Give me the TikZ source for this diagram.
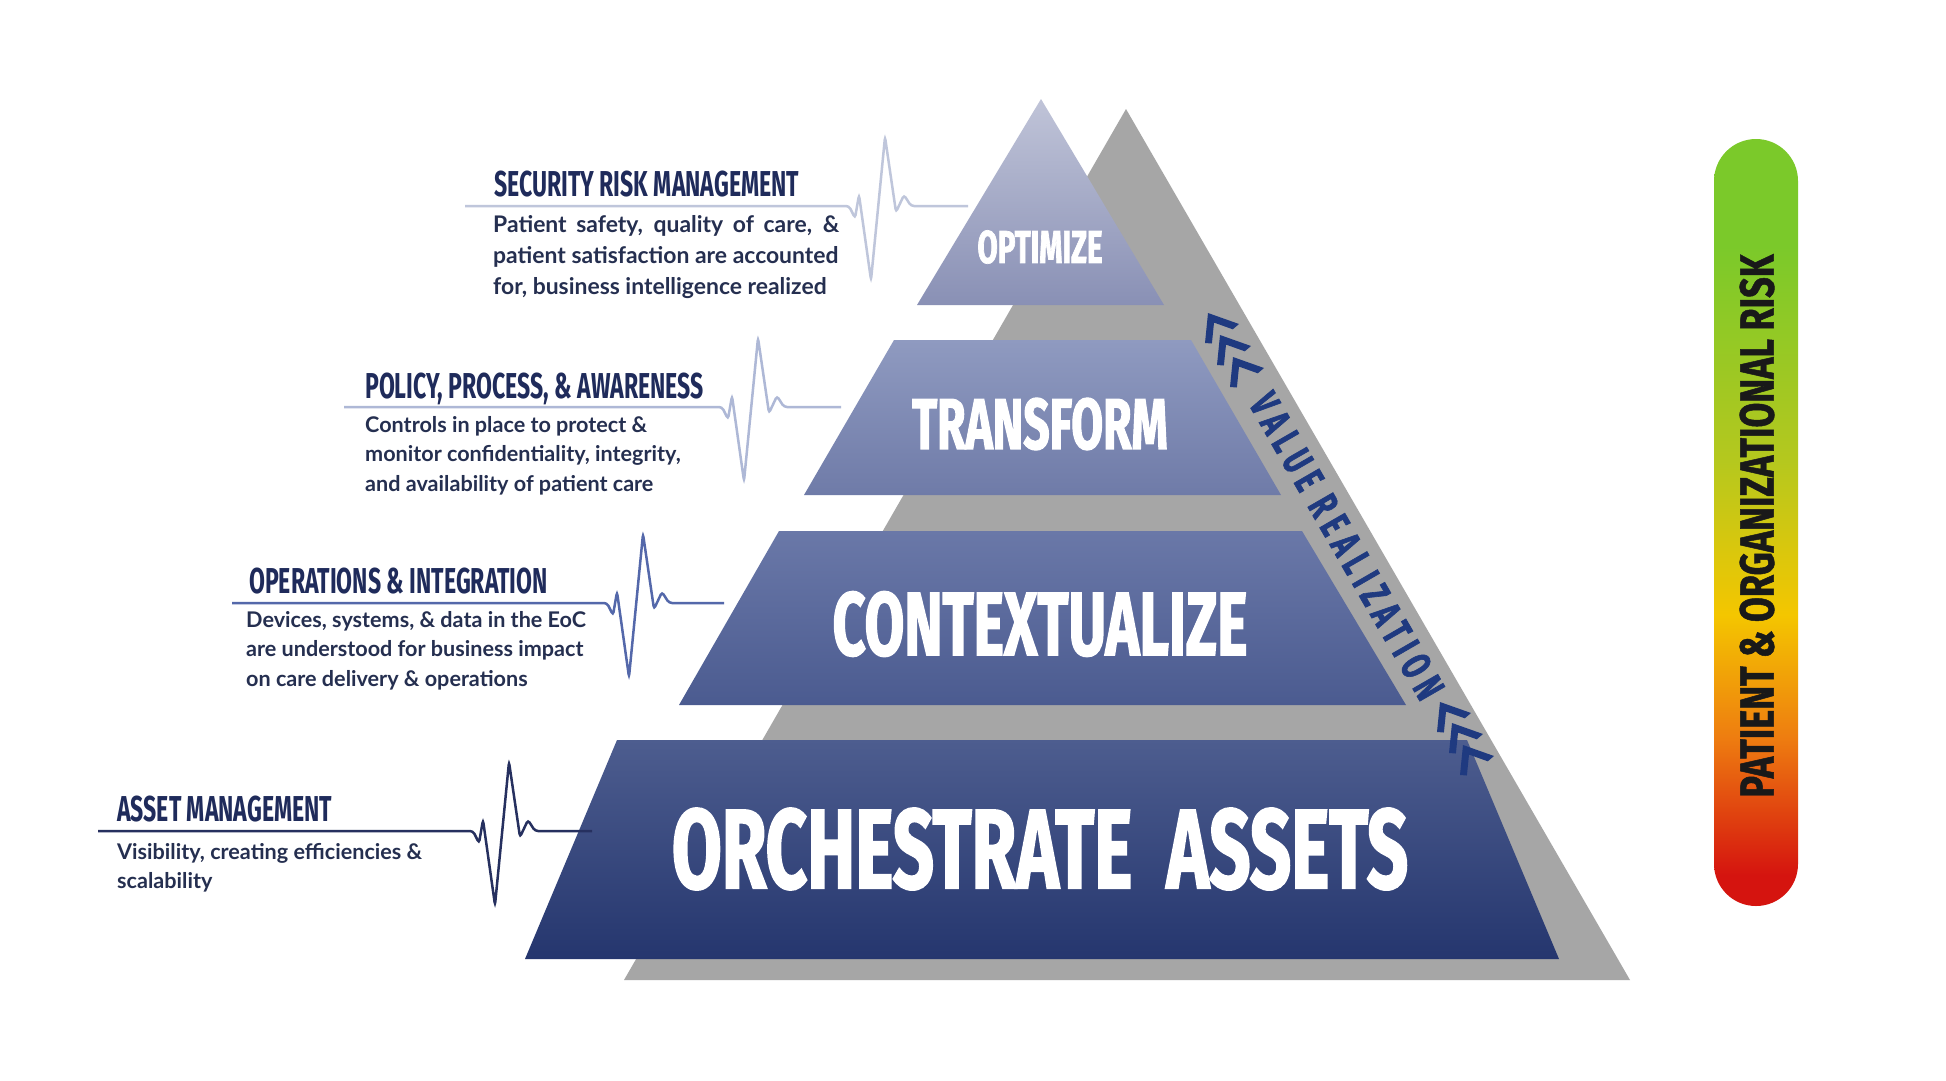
\documentclass[tikz,border=0pt]{standalone}
\usepackage{fontspec}
\setmainfont{Lato}
\newfontfamily\bebas[FakeStretch=0.64]{Fira Sans}
\newfontfamily\tierfont[FakeStretch=0.64,FakeBold=1.5]{Fira Sans}
\newfontfamily\riskfont[FakeStretch=0.75,FakeBold=1]{Fira Sans}
\newfontfamily\spaced[FakeStretch=0.64,LetterSpace=17,FakeBold=1.5]{Fira Sans}
\usetikzlibrary{positioning,calc}

\definecolor{navy}{HTML}{1F2B5B}
\definecolor{bodyblue}{HTML}{252F50}
\definecolor{vblue}{HTML}{1F3A80}
\definecolor{backgray}{HTML}{A6A6A6}
\definecolor{wave1}{HTML}{BFC6DB}
\definecolor{wave2}{HTML}{AEB8D6}
\definecolor{wave3}{HTML}{5468AA}
\definecolor{wave4}{HTML}{26305F}
\definecolor{t1top}{HTML}{C0C4D8}
\definecolor{t1bot}{HTML}{8990B5}
\definecolor{t2top}{HTML}{8F9AC0}
\definecolor{t2bot}{HTML}{6F7BA8}
\definecolor{t3top}{HTML}{6A78A8}
\definecolor{t3bot}{HTML}{4B5B90}
\definecolor{t4top}{HTML}{4D5D8F}
\definecolor{t4bot}{HTML}{25366E}
\definecolor{riskred}{HTML}{D5140F}
\definecolor{riskorange}{HTML}{EE7D10}
\definecolor{riskyellow}{HTML}{F4C600}
\definecolor{riskyg}{HTML}{B5C81E}
\definecolor{riskgreen}{HTML}{7BC92A}

\pgfdeclareverticalshading{riskgrad}{100bp}{color(0bp)=(riskred); color(27bp)=(riskred);
  color(36bp)=(riskorange); color(44bp)=(riskyellow); color(54bp)=(riskyg);
  color(68bp)=(riskgreen); color(100bp)=(riskgreen)}

% one heart beat, drawn from the current point
\newcommand{\beat}{-- ++(6,12) -- ++(4,-23) -- ++(12,85) -- ++(14,-143) -- ++(11,75) -- ++(8,-17) -- ++(7,11)}

\tikzset{
  head/.style={font=\bebas\bfseries\fontsize{36}{36}\selectfont, text=navy, inner sep=0pt, anchor=base west},
  body/.style={font=\bfseries\fontsize{21.6}{29.5}\selectfont, text=bodyblue, inner sep=0pt, align=left, anchor=north west},
  tier/.style={text=white, inner sep=0pt},
  pulse/.style={line width=2.5pt, rounded corners=3pt},
  chev/.pic={\fill[vblue] (0,0) -- (31,11) -- (24.8,16.3) -- (6,9.6) -- (3.9,30.5) -- (-3,30) -- cycle;},
}

\begin{document}
\begin{tikzpicture}[x=1pt, y=-1pt]
	\fill[white] (0,0) rectangle (1946,1080);
	\useasboundingbox (0,0) rectangle (1946,1080);

	% pyramid
	\fill[backgray] (1126,109) -- (1630,980) -- (624,980) -- cycle;
	\shade[top color=t1top, bottom color=t1bot] (1041,99) -- (1164,305) -- (917,305) -- cycle;
	\shade[top color=t2top, bottom color=t2bot] (894,340) -- (1191,340) -- (1281,495) -- (804,495) -- cycle;
	\shade[top color=t3top, bottom color=t3bot] (779,531) -- (1302,531) -- (1406,705) -- (679,705) -- cycle;
	\shade[top color=t4top, bottom color=t4bot] (617,740) -- (1467,740) -- (1559,959) -- (525,959) -- cycle;

	\node[tier, font=\tierfont\bfseries\fontsize{46}{46}\selectfont]   (opt) at (1040,247) {OPTIMIZE};
	\node[tier, font=\tierfont\bfseries\fontsize{72}{72}\selectfont]   (trf) at (1040,424) {TRANSFORM};
	\node[tier, font=\tierfont\bfseries\fontsize{90}{90}\selectfont]   (ctx) at (1040,624) {CONTEXTUALIZE};
	\node[tier, font=\tierfont\bfseries\fontsize{113}{113}\selectfont] (orc) at (1040,849) {ORCHESTRATE\ \ ASSETS};

	% value realization along the side
	\node[text=vblue, rotate=-60, inner sep=0pt, font=\spaced\bfseries\fontsize{42}{42}\selectfont] (val) at (1347,546) {VALUE REALIZATION};
	\pic at (1208,313) {chev};
	\pic at (1220,335) {chev};
	\pic at (1233,357) {chev};
	\pic at (1440,702) {chev};
	\pic at (1452,723) {chev};
	\pic at (1463,745) {chev};

	% left side labels
	\node[head] (srm) at (494,196) {SECURITY RISK MANAGEMENT};
	\node[head] (ppa) at (365,398) {POLICY, PROCESS, \& AWARENESS};
	\node[head] (opi) at (249,593) {OPERATIONS \& INTEGRATION};
	\node[head] (ast) at (117,821) {ASSET MANAGEMENT};

	\node[body, font=\bfseries\fontsize{22.9}{31}\selectfont] (srm-t) at (493,215) {\makebox[346pt][s]{Patient safety, quality of care, \&}\\patient satisfaction are accounted\\for, business intelligence realized};
	\node[body] (ppa-t) at (365,416) {Controls in place to protect \&\\monitor confidentiality, integrity,\\and availability of patient care};
	\node[body] (opi-t) at (246,611) {Devices, systems, \& data in the EoC\\are understood for business impact\\on care delivery \& operations};
	\node[body] (ast-t) at (117,843) {Visibility, creating efficiencies \&\\scalability};

	% pulse lines
	\coordinate (w1s) at (465,206); \coordinate (w1b) at (849,206); \coordinate (w1e) at (968,206);
	\coordinate (w2s) at (344,407); \coordinate (w2b) at (722,407); \coordinate (w2e) at (841,407);
	\coordinate (w3s) at (232,603); \coordinate (w3b) at (607,603); \coordinate (w3e) at (724,603);
	\coordinate (w4s) at (98,831);  \coordinate (w4b) at (473,831); \coordinate (w4e) at (592,831);

	\draw[pulse, wave1] (w1s) -- (w1b) \beat -- (w1e);
	\draw[pulse, wave2] (w2s) -- (w2b) \beat -- (w2e);
	\draw[pulse, wave3] (w3s) -- (w3b) \beat -- (w3e);
	\draw[pulse, wave4] (w4s) -- (w4b) \beat -- (w4e);

	% risk bar
	\shade[shading=riskgrad, rounded corners=42pt] (1714,139) rectangle (1798,906);
	\node[rotate=90, inner sep=0pt, text=black!90, font=\riskfont\bfseries\fontsize{48}{48}\selectfont] (risk) at (1757,526) {PATIENT \& ORGANIZATIONAL RISK};
\end{tikzpicture}
\end{document}
